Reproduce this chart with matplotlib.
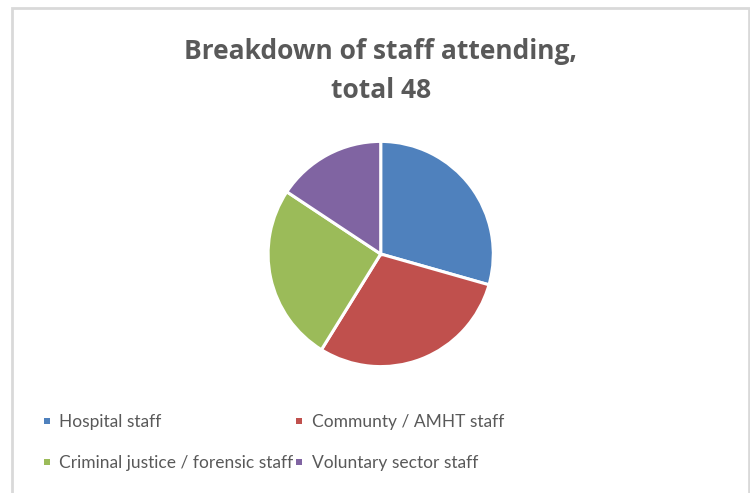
import matplotlib.pyplot as plt
from matplotlib.patches import Rectangle
from matplotlib.lines import Line2D

# Data
labels = ['Hospital staff', 'Communty / AMHT staff',
          'Criminal justice / forensic staff', 'Voluntary sector staff']
counts = [15, 15, 13, 8]
colors = ['#4F81BD', '#C0504D', '#9BBB59', '#8064A2']

W, H = 750, 493
fig = plt.figure(figsize=(W / 100, H / 100), dpi=100)
plt.rcParams['font.family'] = ['Lato', 'DejaVu Sans']

# chart frame
fig.patches.append(Rectangle((11.5 / W, -0.1), (748.5 - 11.5) / W, 1.1 - 8.5 / H,
                             transform=fig.transFigure, fill=False,
                             edgecolor='#D9D9D9', linewidth=2))

# title
title_font = dict(ha='center', va='baseline', fontsize=19, fontweight='bold',
                  color='#595959', family=['Open Sans', 'DejaVu Sans'])
fig.text(381 / W, 1 - 58.5 / H, 'Breakdown of staff attending,', **title_font)
fig.text(381 / W, 1 - 98 / H, 'total 48', **title_font)

# pie
cx, cy, r = 380.7, 254, 112.6
ax = fig.add_axes([(cx - r) / W, (H - cy - r) / H, 2 * r / W, 2 * r / H])
wedges, _ = ax.pie(counts, colors=colors, startangle=90, counterclock=False,
                   wedgeprops=dict(edgecolor='white', linewidth=2.2))
ax.set_xlim(-1, 1)
ax.set_ylim(-1, 1)
ax.set_aspect('auto')

# small square legend keys, filled row by row like the original
keys = [Line2D([], [], marker='s', linestyle='none', markersize=4.5,
               markeredgewidth=0, markerfacecolor=w.get_facecolor())
        for w in wedges]
order = [0, 2, 1, 3]
leg = fig.legend([keys[i] for i in order], [labels[i] for i in order],
                 ncol=2, loc='upper left',
                 bbox_to_anchor=(27 / W, 1 - 398 / H), frameon=False,
                 fontsize=12.5, handlelength=0.5, handletextpad=0.45,
                 columnspacing=0.1, labelspacing=1.45,
                 labelcolor='#595959')

fig.savefig('out.png', dpi=100)
